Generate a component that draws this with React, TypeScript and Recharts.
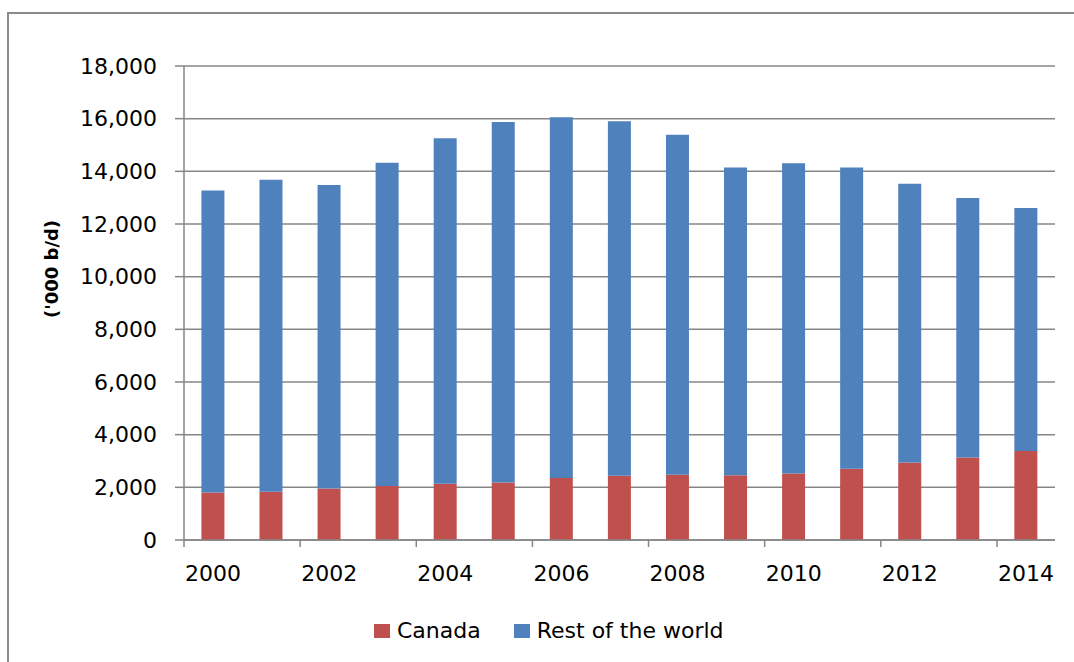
import React from 'react';
import { BarChart, Bar, XAxis, YAxis, CartesianGrid, Legend } from 'recharts';

const years = ['2000', '2001', '2002', '2003', '2004', '2005', '2006', '2007', '2008', '2009', '2010', '2011', '2012', '2013', '2014'];
const canada = [1800, 1830, 1960, 2050, 2140, 2180, 2350, 2440, 2480, 2460, 2530, 2710, 2940, 3130, 3380];
const restOfWorld = [11470, 11850, 11520, 12280, 13120, 13690, 13700, 13460, 12910, 11690, 11780, 11440, 10590, 9860, 9230];
const yTicks = [0, 2000, 4000, 6000, 8000, 10000, 12000, 14000, 16000, 18000];

const data = years.map((year, i) => ({ year, canada: canada[i], rest: restOfWorld[i] }));

const W = 1074;
const H = 662;
const M = { top: 66, right: 19, bottom: 62, left: 0 };
const Y_AXIS_W = 184;
const X_AXIS_H = 60;
const PLOT_W = W - M.left - M.right - Y_AXIS_W;
const BAND = PLOT_W / years.length;
const GRID = '#868686';
const FONT = 'DejaVu Sans';
const RED = '#C0504D';
const BLUE = '#4F81BD';

const XTick = (props: any) => {
  const { x, y, payload, index } = props;
  if (index % 2 !== 0) return null;
  const lx = x - BAND / 2;
  return (
    <g>
      <line x1={lx} x2={lx} y1={y - 7} y2={y} stroke={GRID} strokeWidth={1.5} />
      <text x={x} y={y + 26} textAnchor="middle" dominantBaseline="central" fontFamily={FONT} fontSize={22} fill="#000">
        {payload.value}
      </text>
    </g>
  );
};

const LegendContent = () => (
  <div style={{ display: 'flex', alignItems: 'center', fontFamily: FONT, fontSize: 22, color: '#000', lineHeight: '26px' }}>
    <span style={{ display: 'inline-block', width: 16, height: 14, background: RED, marginRight: 7 }} />
    <span style={{ marginRight: 33 }}>Canada</span>
    <span style={{ display: 'inline-block', width: 16, height: 14, background: BLUE, marginRight: 7 }} />
    <span>Rest of the world</span>
  </div>
);

export default function App() {
  return (
    <div style={{ position: 'absolute', left: 0, top: 0, width: W, height: H, background: '#fff' }}>
      <div style={{ position: 'absolute', left: 7, top: 12, width: W - 7, height: H - 12, borderTop: '2px solid #8a8a8a', borderLeft: '2px solid #8a8a8a', boxSizing: 'border-box' }} />
      <BarChart width={W} height={H} data={data} margin={M} barCategoryGap="30%">
        <CartesianGrid vertical={false} stroke={GRID} strokeWidth={1.5} />
        <XAxis
          dataKey="year"
          height={X_AXIS_H}
          interval={0}
          tickLine={false}
          tickSize={7}
          tickMargin={0}
          axisLine={{ stroke: GRID, strokeWidth: 1.5 }}
          tick={<XTick />}
        />
        <YAxis
          width={Y_AXIS_W}
          domain={[0, 18000]}
          ticks={yTicks}
          interval={0}
          tickSize={9}
          tickMargin={18}
          tickLine={{ stroke: GRID, strokeWidth: 1.5 }}
          axisLine={{ stroke: GRID, strokeWidth: 1.5 }}
          tickFormatter={(v: number) => v.toLocaleString('en-US')}
          tick={{ fontFamily: FONT, fontSize: 22, fill: '#000' }}
          label={{
            content: () => (
              <text
                x={51}
                y={269}
                transform="rotate(-90, 51, 269)"
                textAnchor="middle"
                dominantBaseline="central"
                fontFamily={FONT}
                fontWeight="bold"
                fontSize={18}
                fill="#000"
              >
                ('000 b/d)
              </text>
            ),
          }}
        />
        <Legend
          layout="horizontal"
          verticalAlign="middle"
          align="center"
          wrapperStyle={{ top: 618, left: 374, width: 500, height: 26 }}
          content={<LegendContent />}
        />
        <Bar dataKey="canada" name="Canada" stackId="a" fill={RED} isAnimationActive={false} />
        <Bar dataKey="rest" name="Rest of the world" stackId="a" fill={BLUE} isAnimationActive={false} />
      </BarChart>
    </div>
  );
}
